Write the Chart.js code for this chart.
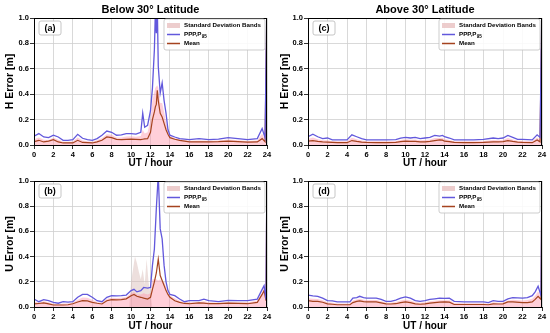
<!DOCTYPE html>
<html><head><meta charset="utf-8">
<script src="https://cdn.jsdelivr.net/npm/chart.js@4.4.0/dist/chart.umd.min.js"></script>
<style>
html,body{margin:0;padding:0;background:#fff;}
#wrap{position:relative;width:550px;height:333px;overflow:hidden;background:#fff;}
canvas{position:absolute;}
</style>
</head><body><div id="wrap">
<canvas id="ca" width="275" height="166" style="left:0;top:0"></canvas>
<canvas id="cc" width="275" height="166" style="left:275px;top:0"></canvas>
<canvas id="cb" width="275" height="167" style="left:0;top:166px"></canvas>
<canvas id="cd" width="275" height="167" style="left:275px;top:166px"></canvas>
</div>
<script>
// ---------- DATA ----------
const xTicks = [0,2,4,6,8,10,12,14,16,18,20,22,24];
const yTicks = [0.0,0.2,0.4,0.6,0.8,1.0];
const panelTitles = ["Below 30° Latitude","Above 30° Latitude"];
const legendLabels = ["Standard Deviation Bands","PPP,P","Mean"];

// (a) H error, below 30°
const timesA = [0,0.5,1,1.5,2,2.5,3,3.5,4,4.5,5,5.5,6,6.5,7,7.5,8,8.5,9,9.5,10,10.5,11,11.2,11.4,11.7,12,12.2,12.4,12.5,12.6,12.7,12.8,13,13.2,13.4,13.6,13.8,14,14.5,15,16,17,18,19,20,21,22,23,23.5,23.8,24];
const p95A = [0.069,0.09,0.063,0.058,0.077,0.063,0.037,0.037,0.042,0.084,0.053,0.042,0.037,0.05,0.077,0.11,0.1,0.077,0.08,0.09,0.09,0.085,0.1,0.25,0.14,0.155,0.27,0.45,0.75,1.05,0.88,1.1,0.62,0.41,0.49,0.35,0.25,0.12,0.077,0.063,0.05,0.042,0.05,0.042,0.047,0.058,0.05,0.042,0.05,0.13,0.058,1.2];
const meanA = [0.026,0.037,0.024,0.03,0.042,0.024,0.016,0.016,0.016,0.037,0.02,0.018,0.016,0.025,0.037,0.063,0.058,0.045,0.042,0.045,0.047,0.045,0.042,0.045,0.048,0.05,0.1,0.2,0.26,0.3,0.32,0.43,0.35,0.25,0.22,0.17,0.12,0.085,0.058,0.045,0.037,0.025,0.024,0.024,0.026,0.03,0.026,0.022,0.024,0.05,0.025,1.2];
const bandA = [0.045,0.06,0.042,0.04,0.058,0.042,0.026,0.026,0.028,0.06,0.035,0.03,0.026,0.037,0.055,0.085,0.08,0.06,0.06,0.066,0.068,0.065,0.07,0.12,0.09,0.1,0.2,0.35,0.42,0.45,0.46,0.47,0.45,0.33,0.33,0.26,0.18,0.1,0.07,0.055,0.045,0.034,0.036,0.034,0.036,0.044,0.038,0.032,0.036,0.09,0.04,1.2];

// (c) H error, above 30°
const timesC = [0,0.5,1,1.5,2,2.5,3,3.5,4,4.5,5,5.5,6,7,8,9,9.5,10,10.5,11,11.5,12,12.5,13,13.5,13.8,14,14.5,15,16,17,18,19,19.5,20,20.5,21,21.5,22,23,23.5,23.8,24];
const p95C = [0.065,0.085,0.065,0.05,0.055,0.04,0.04,0.04,0.04,0.08,0.065,0.05,0.04,0.04,0.04,0.042,0.055,0.06,0.055,0.06,0.05,0.055,0.06,0.075,0.07,0.075,0.065,0.055,0.04,0.04,0.04,0.045,0.055,0.05,0.055,0.075,0.06,0.045,0.045,0.04,0.08,0.06,1.2];
const meanC = [0.03,0.035,0.028,0.024,0.022,0.02,0.018,0.018,0.018,0.035,0.028,0.022,0.02,0.019,0.018,0.02,0.026,0.03,0.028,0.028,0.024,0.025,0.028,0.035,0.04,0.038,0.03,0.026,0.02,0.019,0.018,0.02,0.025,0.024,0.026,0.035,0.028,0.022,0.02,0.018,0.04,0.025,1.2];
const bandC = [0.048,0.06,0.046,0.037,0.038,0.03,0.029,0.029,0.029,0.058,0.046,0.036,0.03,0.03,0.029,0.031,0.04,0.045,0.042,0.044,0.037,0.04,0.044,0.055,0.055,0.056,0.048,0.04,0.03,0.03,0.029,0.032,0.04,0.037,0.04,0.055,0.044,0.034,0.033,0.029,0.06,0.042,1.2];

// (b) U error, below 30°
const timesB = [0,0.5,1,1.5,2,2.5,3,3.5,4,4.5,5,5.5,6,6.5,7,7.5,8,8.5,9,9.5,10,10.3,10.6,11,11.3,11.7,12,12.2,12.4,12.6,12.8,13,13.2,13.4,13.6,13.8,14,14.5,15,15.5,16,17,17.5,18,19,20,21,22,23,23.5,23.7,23.9,24];
const p95B = [0.063,0.042,0.058,0.05,0.037,0.03,0.042,0.038,0.042,0.077,0.1,0.1,0.077,0.05,0.042,0.077,0.09,0.088,0.09,0.095,0.13,0.14,0.12,0.13,0.155,0.15,0.155,0.33,0.46,0.78,1.05,0.62,0.54,0.33,0.2,0.13,0.1,0.09,0.063,0.042,0.05,0.05,0.063,0.05,0.042,0.053,0.05,0.05,0.063,0.14,0.17,0.06,1.2];
const meanB = [0.024,0.028,0.032,0.025,0.016,0.016,0.016,0.018,0.026,0.04,0.05,0.048,0.037,0.03,0.024,0.05,0.058,0.056,0.058,0.065,0.09,0.1,0.085,0.077,0.07,0.063,0.077,0.14,0.2,0.27,0.38,0.25,0.21,0.17,0.13,0.1,0.077,0.05,0.037,0.028,0.026,0.032,0.03,0.026,0.026,0.03,0.028,0.026,0.037,0.1,0.13,0.05,1.2];
const bandB = [0.04,0.035,0.045,0.038,0.026,0.024,0.028,0.028,0.034,0.058,0.075,0.074,0.057,0.04,0.033,0.064,0.074,0.072,0.074,0.08,0.11,0.12,0.1,0.1,0.11,0.1,0.11,0.22,0.22,0.22,0.21,0.22,0.2,0.2,0.16,0.11,0.09,0.07,0.05,0.035,0.038,0.04,0.046,0.038,0.034,0.04,0.038,0.038,0.05,0.12,0.15,0.06,1.2];
const spikeTimesB = [9.8,10.0,10.2,10.4,10.6,10.8,11.0,11.2,11.4,11.6,11.8,12.0,12.2];
const spikeB = [0,0.2,0.3,0.4,0.35,0.28,0.22,0.3,0.18,0.38,0.2,0.1,0];

// (d) U error, above 30°
const timesD = [0,0.5,1,1.5,2,2.5,3,4,4.3,4.6,5,5.3,5.7,6,7,7.5,8,8.5,9,9.5,10,10.5,11,11.5,12,12.5,13,13.5,14,14.5,15,16,17,18,18.5,19,19.5,20,20.5,21,22,22.5,23,23.3,23.6,23.9,24];
const p95D = [0.095,0.088,0.085,0.07,0.05,0.048,0.04,0.04,0.04,0.07,0.075,0.085,0.075,0.07,0.07,0.06,0.045,0.045,0.055,0.07,0.08,0.07,0.05,0.045,0.05,0.06,0.065,0.07,0.068,0.07,0.045,0.04,0.04,0.04,0.035,0.05,0.045,0.045,0.065,0.075,0.07,0.075,0.09,0.12,0.165,0.09,1.2];
const meanD = [0.05,0.045,0.045,0.038,0.025,0.022,0.018,0.018,0.018,0.035,0.045,0.048,0.042,0.04,0.04,0.033,0.025,0.024,0.026,0.035,0.04,0.035,0.025,0.022,0.025,0.03,0.035,0.038,0.04,0.038,0.02,0.02,0.02,0.02,0.018,0.025,0.024,0.025,0.04,0.04,0.035,0.035,0.04,0.06,0.085,0.06,1.2];
const bandD = [0.07,0.065,0.064,0.054,0.037,0.034,0.028,0.028,0.028,0.052,0.06,0.066,0.058,0.055,0.055,0.046,0.035,0.034,0.04,0.052,0.06,0.052,0.037,0.033,0.037,0.045,0.05,0.054,0.054,0.054,0.032,0.03,0.03,0.03,0.026,0.037,0.034,0.035,0.052,0.058,0.052,0.055,0.065,0.09,0.125,0.075,1.2];

// ---------- STYLE ----------
const FONT = '"Liberation Sans", Arial, sans-serif';
const C_P95 = '#6258dc';
const C_MEAN = '#a5431f';
const C_BAND = 'rgba(255,140,165,0.42)';
const C_SPIKE = 'rgba(215,185,180,0.45)';
const C_LEG_BAND = 'rgba(235,200,200,0.9)';

const pts = (t, v) => t.map((x, i) => ({x: x, y: v[i]}));

const deco = {
  id: 'deco',
  afterDatasetsDraw(chart, args, o) {
    const ctx = chart.ctx, a = chart.chartArea;
    ctx.save();
    // frame
    ctx.strokeStyle = '#000'; ctx.lineWidth = 1;
    ctx.strokeRect(a.left + 0.5, a.top + 0.5, a.right - a.left - 1, a.bottom - a.top);
    // panel label box
    const lx = a.left + 5, ly = a.top + 3, lw = 22, lh = 14;
    roundRect(ctx, lx, ly, lw, lh, 2);
    ctx.fillStyle = 'rgba(255,255,255,0.9)'; ctx.fill();
    ctx.strokeStyle = '#b8b8b8'; ctx.lineWidth = 0.8; ctx.stroke();
    ctx.fillStyle = '#000'; ctx.font = 'bold 9px ' + FONT;
    ctx.textAlign = 'center'; ctx.textBaseline = 'middle';
    ctx.fillText(o.label, lx + lw / 2, ly + lh / 2 + 0.5);
    // legend
    const bx = a.right - 103, by = a.top + 1, bw = 101, bh = 31;
    roundRect(ctx, bx, by, bw, bh, 2);
    ctx.fillStyle = 'rgba(255,255,255,0.85)'; ctx.fill();
    ctx.strokeStyle = '#c0c0c0'; ctx.lineWidth = 0.8; ctx.stroke();
    const px = bx + 3, pw = 13, tx = bx + 20;
    const rows = [by + 6.5, by + 15.5, by + 24.5];
    ctx.fillStyle = C_LEG_BAND; ctx.fillRect(px, rows[0] - 2.5, pw, 5);
    ctx.lineWidth = 1.5;
    ctx.strokeStyle = C_P95; ctx.beginPath(); ctx.moveTo(px, rows[1]); ctx.lineTo(px + pw, rows[1]); ctx.stroke();
    ctx.strokeStyle = C_MEAN; ctx.beginPath(); ctx.moveTo(px, rows[2]); ctx.lineTo(px + pw, rows[2]); ctx.stroke();
    ctx.fillStyle = '#000'; ctx.textAlign = 'left'; ctx.textBaseline = 'middle';
    ctx.font = 'bold 6.2px ' + FONT;
    ctx.fillText(legendLabels[0], tx, rows[0]);
    ctx.fillText(legendLabels[1], tx, rows[1]);
    const w1 = ctx.measureText(legendLabels[1]).width;
    ctx.font = 'bold 4.6px ' + FONT;
    ctx.fillText('95', tx + w1 + 0.3, rows[1] + 1.8);
    ctx.font = 'bold 6.2px ' + FONT;
    ctx.fillText(legendLabels[2], tx, rows[2]);
    // title
    if (o.title) {
      ctx.font = 'bold 11px ' + FONT; ctx.textAlign = 'center'; ctx.textBaseline = 'middle';
      ctx.fillText(o.title, (a.left + a.right) / 2, 9.5);
    }
    ctx.restore();
  }
};
function roundRect(ctx, x, y, w, h, r) {
  ctx.beginPath();
  ctx.moveTo(x + r, y); ctx.lineTo(x + w - r, y); ctx.quadraticCurveTo(x + w, y, x + w, y + r);
  ctx.lineTo(x + w, y + h - r); ctx.quadraticCurveTo(x + w, y + h, x + w - r, y + h);
  ctx.lineTo(x + r, y + h); ctx.quadraticCurveTo(x, y + h, x, y + h - r);
  ctx.lineTo(x, y + r); ctx.quadraticCurveTo(x, y, x + r, y); ctx.closePath();
}

function makePanel(id, cfg) {
  const datasets = [
    {label: 'p95', data: pts(cfg.t, cfg.p95), borderColor: C_P95, borderWidth: 1.3, pointRadius: 0, fill: false, tension: 0, order: 0},
    {label: 'mean', data: pts(cfg.t, cfg.mean), borderColor: C_MEAN, borderWidth: 1.2, pointRadius: 0, fill: false, tension: 0, order: 1},
    {label: 'band', data: pts(cfg.t, cfg.band), borderWidth: 0, borderColor: 'rgba(0,0,0,0)', backgroundColor: C_BAND, pointRadius: 0, fill: 'origin', tension: 0, order: 2}
  ];
  if (cfg.spikeT) datasets.push({label: 'spike', data: pts(cfg.spikeT, cfg.spike), borderWidth: 0, borderColor: 'rgba(0,0,0,0)', backgroundColor: C_SPIKE, pointRadius: 0, fill: 'origin', tension: 0, order: 3});
  new Chart(document.getElementById(id), {
    type: 'line',
    data: {datasets},
    options: {
      responsive: false, animation: false, devicePixelRatio: 1,
      layout: {padding: {top: cfg.top, right: 8, left: 0, bottom: 0}},
      plugins: {legend: {display: false}, tooltip: {enabled: false}, title: {display: false},
        deco: {label: cfg.label, title: cfg.title}},
      scales: {
        x: {type: 'linear', min: 0, max: 24,
          afterBuildTicks: s => { s.ticks = xTicks.map(v => ({value: v})); },
          afterFit: s => { s.height = cfg.xh; },
          grid: {color: '#cfcfcf', lineWidth: 0.8, tickColor: '#000', tickLength: 4, drawTicks: true},
          border: {color: '#000', width: 1},
          ticks: {color: '#000', font: {family: FONT, size: 7.5, weight: 'bold'}, padding: 1, maxRotation: 0, autoSkip: false},
          title: {display: true, text: 'UT / hour', color: '#000', font: {family: FONT, size: 10, weight: 'bold'}, padding: {top: 0, bottom: cfg.xtp}}
        },
        y: {min: 0, max: 1,
          afterBuildTicks: s => { s.ticks = yTicks.map(v => ({value: v})); },
          afterFit: s => { s.width = cfg.yw; },
          grid: {color: '#cfcfcf', lineWidth: 0.8, tickColor: '#000', tickLength: 4, drawTicks: true},
          border: {color: '#000', width: 1},
          ticks: {color: '#000', font: {family: FONT, size: 7.5, weight: 'bold'}, padding: 1, callback: v => v.toFixed(1)},
          title: {display: true, text: cfg.ytitle, color: '#000', font: {family: FONT, size: 10.5, weight: 'bold'}, padding: {top: 4, bottom: 0}}
        }
      }
    },
    plugins: [deco]
  });
}

makePanel('ca', {t: timesA, p95: p95A, mean: meanA, band: bandA, label: '(a)', title: panelTitles[0], ytitle: 'H Error [m]', top: 18, xh: 21, xtp: -3, yw: 34});
makePanel('cc', {t: timesC, p95: p95C, mean: meanC, band: bandC, label: '(c)', title: panelTitles[1], ytitle: 'H Error [m]', top: 18, xh: 21, xtp: -3, yw: 33});
makePanel('cb', {t: timesB, p95: p95B, mean: meanB, band: bandB, spikeT: spikeTimesB, spike: spikeB, label: '(b)', title: null, ytitle: 'U Error [m]', top: 15, xh: 26, xtp: 1, yw: 34});
makePanel('cd', {t: timesD, p95: p95D, mean: meanD, band: bandD, label: '(d)', title: null, ytitle: 'U Error [m]', top: 15, xh: 26, xtp: 1, yw: 33});
</script>
</body></html>
